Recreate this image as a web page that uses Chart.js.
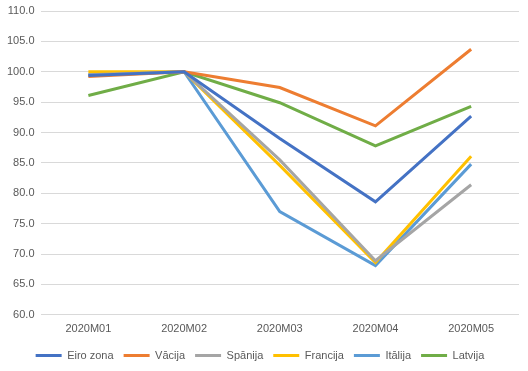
<!DOCTYPE html>
<html>
<head>
<meta charset="utf-8">
<script src="https://cdn.jsdelivr.net/npm/chart.js@4"></script>
<style>
  html, body { margin: 0; padding: 0; background: #fff; }
  #wrap { width: 528px; height: 371px; position: relative; }
</style>
</head>
<body>
<div id="wrap"><canvas id="chart"></canvas></div>
<script>
// periods and series (index, 2020M02 = 100)
const months = ["2020M01", "2020M02", "2020M03", "2020M04", "2020M05"];
const eiroZona = [99.4, 100.0, 89.0, 78.6, 92.7];
const vacija   = [99.2, 100.0, 97.4, 91.1, 103.7];
const spanija  = [99.5, 100.0, 85.5, 68.9, 81.4];
const francija = [100.0, 100.0, 84.6, 68.6, 86.1];
const italija  = [99.5, 100.0, 77.0, 68.1, 84.8];
const latvija  = [96.1, 100.0, 94.9, 87.8, 94.3];

const seriesNames = ["Eiro zona", "Vācija", "Spānija", "Francija", "Itālija", "Latvija"];
const seriesData = [eiroZona, vacija, spanija, francija, italija, latvija];
const colors = ["#4472C4", "#ED7D31", "#A5A5A5", "#FFC000", "#5B9BD5", "#70AD47"];

document.addEventListener("DOMContentLoaded", function() {
  var ctx = document.getElementById("chart").getContext("2d");

  var datasets = seriesNames.map(function(name, i) {
    return {
      label: name,
      data: seriesData[i],
      borderColor: colors[i],
      backgroundColor: colors[i],
      borderWidth: 3,
      pointRadius: 0,
      pointStyle: "line",
      tension: 0,
      fill: false
    };
  });

  new Chart(ctx, {
    type: "line",
    data: { labels: months, datasets: datasets },
    options: {
      responsive: true,
      maintainAspectRatio: false,
      animation: false,
      layout: { padding: { top: 0, right: 9, left: 1, bottom: 0 } },
      scales: {
        x: {
          offset: true,
          grid: { display: false },
          border: { display: false },
          ticks: { color: "#595959", font: { family: "Liberation Sans", size: 11 }, padding: 0 },
          // a bit more room between the month labels and the legend
          afterFit: function(scale) { scale.height += 4; }
        },
        y: {
          min: 60,
          max: 110,
          border: { display: false },
          grid: { color: "#d9d9d9", lineWidth: 1, drawTicks: false },
          ticks: {
            stepSize: 5,
            color: "#595959",
            padding: 6,
            font: { family: "Liberation Sans", size: 11 },
            callback: function(v) { return Number(v).toFixed(1); }
          },
          // top line a little closer to the edge than the default
          afterFit: function(scale) { scale.paddingTop = 11; }
        }
      },
      plugins: {
        legend: {
          position: "bottom",
          labels: {
            usePointStyle: true,
            pointStyleWidth: 26,
            color: "#595959",
            font: { family: "Liberation Sans", size: 11 },
            padding: 10
          }
        },
        tooltip: { enabled: false }
      }
    }
  });
});
</script>
</body>
</html>
